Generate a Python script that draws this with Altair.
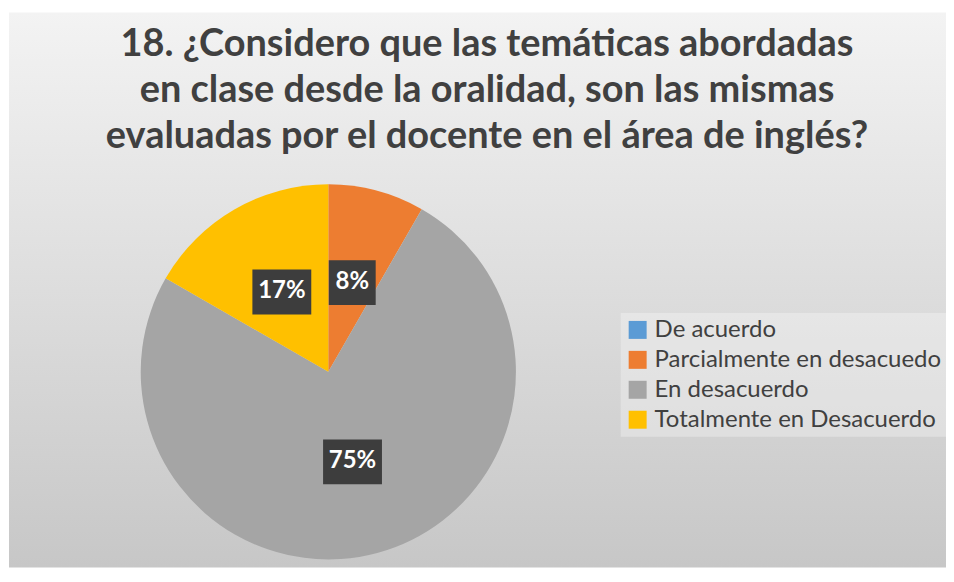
import altair as alt
import pandas as pd

# ---- data ----
categories = ["De acuerdo", "Parcialmente en desacuedo", "En desacuerdo", "Totalmente en Desacuerdo"]
percent = [0.0, 8.3, 75.0, 16.7]
labels = ["0%", "8%", "75%", "17%"]
colors = ["#5B9BD5", "#ED7D31", "#A5A5A5", "#FFC000"]
title_lines = [
    "18. ¿Considero que las temáticas abordadas",
    "en clase desde la oralidad, son las mismas",
    "evaluadas por el docente en el área de inglés?",
]

df = pd.DataFrame({"cat": categories, "pct": percent, "label": labels, "ord": list(range(len(categories)))})

W, H = 940, 560
CX, CY, R = 321, 364, 188
LR = 93  # label radius

one = pd.DataFrame({"a": [0]})

background = alt.Chart(one).mark_rect(
    color={
        "gradient": "linear",
        "x1": 0, "y1": 0, "x2": 0, "y2": 1,
        "stops": [
            {"offset": 0, "color": "#f3f3f3"},
            {"offset": 1, "color": "#c7c7c7"},
        ],
    }
).encode(x=alt.value(1), x2=alt.value(W), y=alt.value(4), y2=alt.value(H))

pie = alt.Chart(df).mark_arc(radius=R).encode(
    theta=alt.Theta("pct:Q", stack=True),
    color=alt.Color(
        "cat:N",
        scale=alt.Scale(domain=categories, range=colors),
        sort=categories,
        legend=alt.Legend(
            orient="none", legendX=614, legendY=305, title=None,
            symbolType="square", symbolSize=324, symbolStrokeWidth=0,
            labelFont="Lato", labelFontSize=24, labelColor="#404040",
            labelOffset=5, rowPadding=6, padding=5, labelLimit=400,
            fillColor="rgba(255,255,255,0.3)",
        ),
    ),
    order=alt.Order("ord:Q"),
    x=alt.value(CX),
    y=alt.value(CY),
)

lab = (
    alt.Chart(df)
    .transform_filter("datum.pct > 0")
    .transform_joinaggregate(total="sum(pct)")
    .transform_window(cum="sum(pct)", sort=[alt.SortField("ord")], frame=[None, 0])
    .transform_calculate(
        mid="(datum.cum - datum.pct/2) / datum.total * 2 * PI",
    )
    .transform_calculate(
        lx=f"{CX} + {LR} * sin(datum.mid)",
        ly=f"{CY} - {LR} * cos(datum.mid)",
        bw="23 + 12 * length(datum.label)",
    )
    .transform_calculate(
        bx1="datum.lx - datum.bw / 2",
        bx2="datum.lx + datum.bw / 2",
        by1="datum.ly - 22",
        by2="datum.ly + 23",
    )
)

boxes = lab.mark_rect(color="#3d3d3d").encode(
    x=alt.X("bx1:Q", scale=None, axis=None),
    x2="bx2:Q",
    y=alt.Y("by1:Q", scale=None, axis=None),
    y2="by2:Q",
)

texts = lab.mark_text(
    font="Lato", fontWeight="bold", fontSize=24, color="white", baseline="middle", align="center"
).encode(
    x=alt.X("lx:Q", scale=None, axis=None),
    y=alt.Y("ly:Q", scale=None, axis=None),
    text="label:N",
)

title = alt.Chart(one).mark_text(
    text=title_lines, font="Lato", fontSize=38, fontWeight="bold", color="#404040",
    lineHeight=46, align="center", baseline="alphabetic",
).encode(x=alt.value(480), y=alt.value(48))

chart = alt.layer(background, pie, boxes, texts, title).properties(
    width=W, height=H, autosize="none", padding=0, background="white"
).configure_view(strokeWidth=0)

chart.save("out.html", embed_options={"renderer": "svg", "actions": False})
